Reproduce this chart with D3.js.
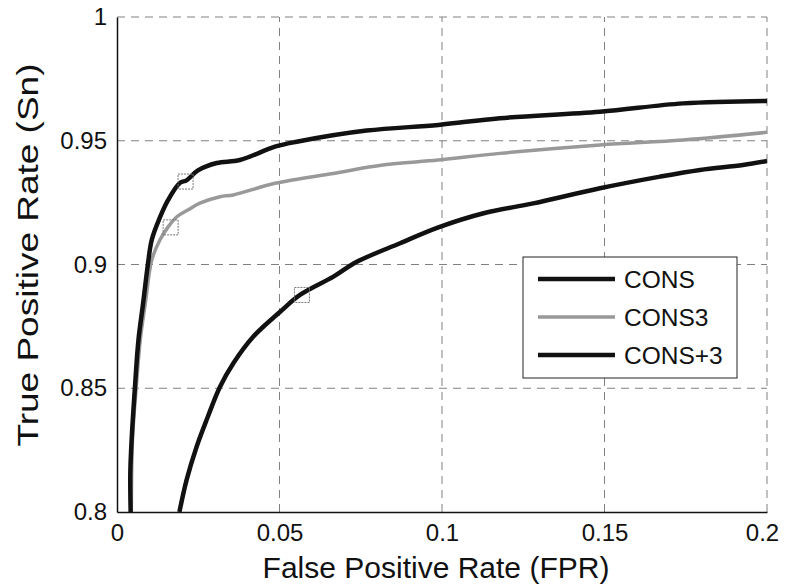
<!DOCTYPE html>
<html>
<head>
<meta charset="utf-8">
<script src="https://d3js.org/d3.v7.min.js"></script>
<style>
  body { margin: 0; background: #fff; }
  text { font-family: "Liberation Sans", Arial, sans-serif; fill: #111; }
</style>
</head>
<body>
<script>
// roc curve data

var seriesNames = ['CONS', 'CONS3', 'CONS+3'];

var consX = [0.0042, 0.0041, 0.0045, 0.0055, 0.0066, 0.0081, 0.0095, 0.0107, 0.0132, 0.0157, 0.0194, 0.0214, 0.0249, 0.0307, 0.0378, 0.0486, 0.0553, 0.0768, 0.0989, 0.1178, 0.1486, 0.1742, 0.2];
var consY = [0.800, 0.816, 0.829, 0.850, 0.8695, 0.885, 0.900, 0.910, 0.919, 0.926, 0.933, 0.934, 0.938, 0.941, 0.9422, 0.9476, 0.9496, 0.9541, 0.9564, 0.9591, 0.9617, 0.9651, 0.9661];

var cons3X = [0.0044, 0.0048, 0.0059, 0.0072, 0.0088, 0.0107, 0.0132, 0.0158, 0.0184, 0.0218, 0.0255, 0.0317, 0.0358, 0.0486, 0.0665, 0.0818, 0.0988, 0.1178, 0.1486, 0.1742, 0.2];
var cons3Y = [0.800, 0.830, 0.850, 0.870, 0.885, 0.9018, 0.9099, 0.9153, 0.9193, 0.922, 0.9248, 0.9274, 0.9281, 0.9328, 0.9368, 0.9402, 0.9422, 0.9449, 0.9483, 0.9503, 0.9534];

var consP3X = [0.0192, 0.0214, 0.0245, 0.0278, 0.0317, 0.0358, 0.0419, 0.0502, 0.0563, 0.0666, 0.0738, 0.0871, 0.0989, 0.1128, 0.1281, 0.1486, 0.1671, 0.1794, 0.1926, 0.2];
var consP3Y = [0.800, 0.8129, 0.8264, 0.8380, 0.8506, 0.8601, 0.8708, 0.8809, 0.8877, 0.8951, 0.9011, 0.9086, 0.9150, 0.9207, 0.9247, 0.9308, 0.9355, 0.9382, 0.9402, 0.9418];

// the little boxes marking an operating point on each curve
var markX = [0.0211, 0.0165, 0.0569];
var markY = [0.9335, 0.915, 0.8877];

var xTicks = [0, 0.05, 0.1, 0.15, 0.2];
var yTicks = [0.8, 0.85, 0.9, 0.95, 1];
var xTickLabels = ['0', '0.05', '0.1', '0.15', '0.2'];
var yTickLabels = ['0.8', '0.85', '0.9', '0.95', '1'];

var plotLeft = 117, plotRight = 767, plotTop = 17, plotBottom = 512;

var svg = d3.select('body').append('svg').attr('width', 788).attr('height', 588);

var x = d3.scaleLinear().domain([0, 0.2]).range([plotLeft, plotRight]);
var y = d3.scaleLinear().domain([0.8, 1]).range([plotBottom, plotTop]);

// dashed grid, top and right edges are grid lines too
var grid = svg.append('g').attr('stroke', '#808080').attr('stroke-width', 1).attr('stroke-dasharray', '8,6');
grid.selectAll('.gx').data(xTicks.slice(1)).enter().append('line')
  .attr('x1', function(d) { return x(d); }).attr('x2', function(d) { return x(d); })
  .attr('y1', y(0.8)).attr('y2', y(1));
grid.selectAll('.gy').data(yTicks.slice(1)).enter().append('line')
  .attr('y1', function(d) { return y(d); }).attr('y2', function(d) { return y(d); })
  .attr('x1', x(0)).attr('x2', x(0.2));

// axes
var xAxis = d3.axisBottom(x).tickValues(xTicks).tickSize(0).tickPadding(12)
  .tickFormat(function(d, i) { return xTickLabels[i]; });
var yAxis = d3.axisLeft(y).tickValues(yTicks).tickSize(0).tickPadding(10)
  .tickFormat(function(d, i) { return yTickLabels[i]; });

var gx = svg.append('g').attr('transform', 'translate(0,' + plotBottom + ')').call(xAxis);
var gy = svg.append('g').attr('transform', 'translate(' + plotLeft + ',0)').call(yAxis);
[gx, gy].forEach(function(g) {
  g.select('.domain').attr('stroke', '#111').attr('stroke-width', 1.5);
  g.selectAll('text').style('font-size', '24px').style('font-family', '"Liberation Sans", Arial, sans-serif').attr('fill', '#111');
});
// last x label sits a bit inside the edge
gx.selectAll('.tick text').filter(function(d) { return d === 0.2; }).attr('dx', -5);

// curves
var line = d3.line().curve(d3.curveCatmullRom.alpha(0.5))
  .x(function(d) { return x(d[0]); }).y(function(d) { return y(d[1]); });
var zip = function(a, b) { return a.map(function(v, i) { return [v, b[i]]; }); };

svg.append('path').datum(zip(cons3X, cons3Y)).attr('d', line)
  .attr('fill', 'none').attr('stroke', '#999').attr('stroke-width', 3.5).attr('stroke-linejoin', 'round');
svg.append('path').datum(zip(consX, consY)).attr('d', line)
  .attr('fill', 'none').attr('stroke', '#111').attr('stroke-width', 4.5).attr('stroke-linejoin', 'round');
svg.append('path').datum(zip(consP3X, consP3Y)).attr('d', line)
  .attr('fill', 'none').attr('stroke', '#111').attr('stroke-width', 4.5).attr('stroke-linejoin', 'round');

// operating point boxes
svg.selectAll('.mark').data(zip(markX, markY)).enter().append('rect')
  .attr('x', function(d) { return x(d[0]) - 7.5; })
  .attr('y', function(d) { return y(d[1]) - 7.5; })
  .attr('width', 15).attr('height', 15)
  .attr('fill', 'none').attr('stroke', '#777').attr('stroke-width', 1).attr('stroke-dasharray', '2,1');

// legend
var legend = svg.append('g');
legend.append('rect').attr('x', 523).attr('y', 257).attr('width', 214).attr('height', 121)
  .attr('fill', '#fff').attr('stroke', '#222').attr('stroke-width', 1);
var legColors = ['#111', '#999', '#111'];
var legWidths = [4.5, 3.5, 4.5];
var legRow = d3.scalePoint().domain(seriesNames).range([279, 355]);
legend.selectAll('.ll').data(seriesNames).enter().append('line')
  .attr('x1', 538).attr('x2', 615)
  .attr('y1', function(d) { return legRow(d); }).attr('y2', function(d) { return legRow(d); })
  .attr('stroke', function(d, i) { return legColors[i]; })
  .attr('stroke-width', function(d, i) { return legWidths[i]; });
legend.selectAll('.lt').data(seriesNames).enter().append('text')
  .attr('x', 624).attr('y', function(d) { return legRow(d); }).attr('dy', '0.36em')
  .style('font-size', '24.5px').text(function(d) { return d; });

// axis titles
svg.append('text').attr('x', 436).attr('y', 578).attr('text-anchor', 'middle')
  .style('font-size', '30px').text('False Positive Rate (FPR)');
svg.append('text').attr('transform', 'translate(38,255) rotate(-90)').attr('text-anchor', 'middle')
  .attr('textLength', 383).attr('lengthAdjust', 'spacingAndGlyphs')
  .style('font-size', '30px').text('True Positive Rate (Sn)');
</script>
</body>
</html>
